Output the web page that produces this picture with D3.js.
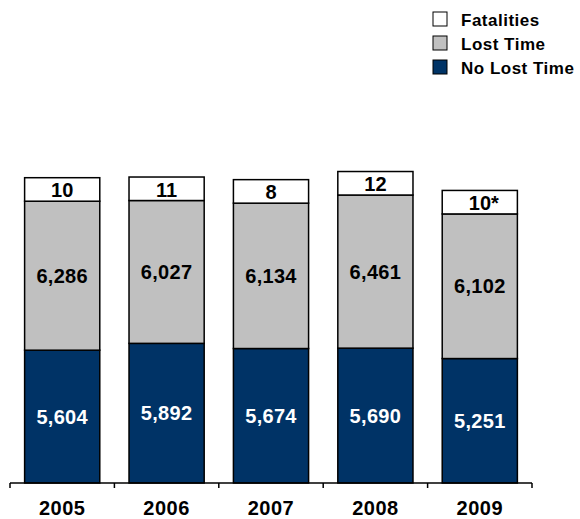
<!DOCTYPE html>
<html>
<head>
<meta charset="utf-8">
<script src="https://cdn.jsdelivr.net/npm/d3@7"></script>
<style>
  html, body { margin: 0; padding: 0; background: #fff; }
  svg { display: block; font-family: "Liberation Sans", Arial, sans-serif; font-weight: bold; }
</style>
</head>
<body>
<svg id="chart" width="580" height="519"></svg>
<script>
// Injury counts by year
const years = ["2005", "2006", "2007", "2008", "2009"];
const noLostTime = [5604, 5892, 5674, 5690, 5251];
const lostTime = [6286, 6027, 6134, 6461, 6102];
const fatalities = [10, 11, 8, 12, 10];
const fatalityNotes = ["", "", "", "", "*"];
const seriesNames = ["Fatalities", "Lost Time", "No Lost Time"];

const colors = { "No Lost Time": "#003366", "Lost Time": "#C0C0C0", "Fatalities": "#FFFFFF" };

const svg = d3.select("#chart");
const baseY = 483;

const x = d3.scaleBand().domain(years).range([10, 532]).padding(0);
const barW = x.bandwidth() * 0.72;
const y = d3.scaleLinear().domain([0, 20000]).range([baseY, 9]);
const fatalBoxH = 23.5; // fatalities shown as a fixed-size label cell on top of the stack
const fmt = d3.format(",");

const rows = years.map((yr, i) => ({
  year: yr,
  nlt: noLostTime[i],
  lt: lostTime[i],
  fat: fatalities[i],
  note: fatalityNotes[i]
}));

const g = svg.append("g");

rows.forEach(d => {
  const cx = x(d.year) + x.bandwidth() / 2;
  const x0 = cx - barW / 2;
  const yNlt = y(d.nlt);
  const yLt = y(d.nlt + d.lt);

  // No Lost Time segment
  g.append("rect").attr("x", x0).attr("y", yNlt).attr("width", barW)
    .attr("height", baseY - yNlt).attr("fill", colors["No Lost Time"])
    .attr("stroke", "#000").attr("stroke-width", 1.5);
  // Lost Time segment
  g.append("rect").attr("x", x0).attr("y", yLt).attr("width", barW)
    .attr("height", yNlt - yLt).attr("fill", colors["Lost Time"])
    .attr("stroke", "#000").attr("stroke-width", 1.5);
  // Fatalities cell
  g.append("rect").attr("x", x0).attr("y", yLt - fatalBoxH).attr("width", barW)
    .attr("height", fatalBoxH).attr("fill", colors["Fatalities"])
    .attr("stroke", "#000").attr("stroke-width", 1.5);

  g.append("text").attr("x", cx).attr("y", (yNlt + baseY) / 2)
    .attr("text-anchor", "middle").attr("dominant-baseline", "central")
    .attr("font-size", 20).attr("letter-spacing", 0.3).attr("fill", "#fff").text(fmt(d.nlt));
  g.append("text").attr("x", cx).attr("y", (yLt + yNlt) / 2)
    .attr("text-anchor", "middle").attr("dominant-baseline", "central")
    .attr("font-size", 20).attr("letter-spacing", 0.3).attr("fill", "#000").text(fmt(d.lt));
  const ft = g.append("text").attr("x", cx).attr("y", yLt - fatalBoxH / 2 + 1)
    .attr("text-anchor", "middle").attr("dominant-baseline", "central")
    .attr("font-size", 20).attr("fill", "#000");
  ft.append("tspan").text(fmt(d.fat));
  if (d.note) {
    ft.attr("dx", 4);
    ft.append("tspan").text(d.note);
  }
});

// Category axis with ticks at band boundaries
const edges = years.map(v => x(v)).concat([x.range()[1]]);
const axis = svg.append("g");
axis.append("line").attr("x1", 10).attr("x2", 532).attr("y1", baseY).attr("y2", baseY)
  .attr("stroke", "#000").attr("stroke-width", 1.5);
axis.selectAll("line.tick").data(edges).join("line").attr("class", "tick")
  .attr("x1", d => d).attr("x2", d => d).attr("y1", baseY).attr("y2", baseY + 5)
  .attr("stroke", "#000").attr("stroke-width", 1.5);
axis.selectAll("text").data(years).join("text")
  .attr("x", d => x(d) + x.bandwidth() / 2).attr("y", 515)
  .attr("text-anchor", "middle").attr("font-size", 20).attr("letter-spacing", 0.5)
  .attr("fill", "#000")
  .text(d => d);

// Legend
const legend = svg.append("g");
seriesNames.forEach((name, i) => {
  const ly = 12 + i * 24;
  legend.append("rect").attr("x", 433).attr("y", ly).attr("width", 14).attr("height", 14)
    .attr("fill", colors[name]).attr("stroke", "#000").attr("stroke-width", 1);
  legend.append("text").attr("x", 461).attr("y", ly + 13.5)
    .attr("font-size", 17).attr("letter-spacing", 0.5).attr("fill", "#000").text(name);
});
</script>
</body>
</html>
